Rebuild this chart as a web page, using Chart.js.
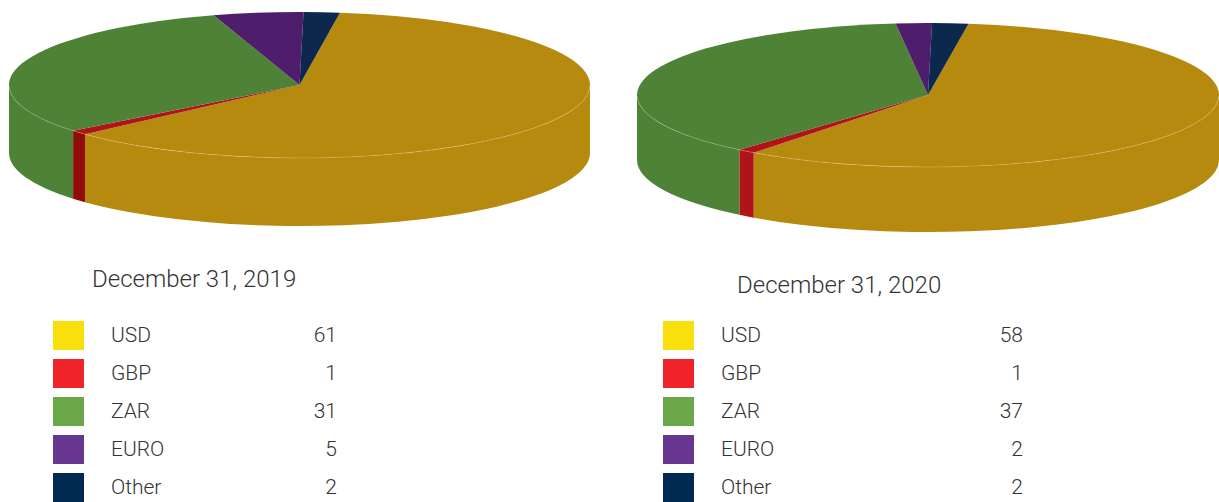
<!DOCTYPE html>
<html>
<head>
<meta charset="utf-8">
<script src="https://cdn.jsdelivr.net/npm/chart.js@4.4.1/dist/chart.umd.min.js"></script>
<style>
  html, body { margin: 0; padding: 0; background: #fff; }
  body { width: 1219px; height: 502px; position: relative; overflow: hidden;
         font-family: Roboto, "Liberation Sans", sans-serif; font-weight: 300; color: #333; }
  canvas { position: absolute; top: 0; }
  #pie-2019 { left: 0; }
  #pie-2020 { left: 620px; }
  .title { position: absolute; font-size: 24px; line-height: 28px; white-space: nowrap; }
  #title-2019 { left: 92px; top: 265px; }
  #title-2020 { left: 737px; top: 271px; }
  .legend { position: absolute; top: 321px; }
  #legend-2019 { left: 53px; width: 284px; }
  #legend-2020 { left: 663px; width: 360px; }
  .row { position: relative; height: 38px; font-size: 21px; }
  .row .sw { position: absolute; left: 0; top: 0; width: 31px; height: 29px; }
  .row .lbl { position: absolute; left: 58px; top: 0; line-height: 29px; }
  .row .val { position: absolute; right: 0; top: 0; line-height: 29px; }
</style>
</head>
<body>
<canvas id="pie-2019" width="610" height="240"></canvas>
<canvas id="pie-2020" width="599" height="240"></canvas>
<div class="title" id="title-2019"></div>
<div class="title" id="title-2020"></div>
<div class="legend" id="legend-2019"></div>
<div class="legend" id="legend-2020"></div>
<script>
// Currency split of holdings, two year-ends, drawn as tilted 3D pies.
const CURRENCIES = ['USD', 'GBP', 'ZAR', 'EURO', 'Other'];
const SHARE_2019 = [61, 1, 31, 5, 2];
const SHARE_2020 = [58, 1, 37, 2, 2];
const TITLE_2019 = 'December 31, 2019';
const TITLE_2020 = 'December 31, 2020';

// pie faces are a darker print tone than the legend swatches
const PIE_COLORS = ['#b58a0f', '#b0141a', '#4e8236', '#4e1d6b', '#0d284d'];
const SIDE_COLORS = ['#b58a0f', '#920b0b', '#4e8236', '#4e1d6b', '#0d284d'];
const KEY_COLORS = ['#f9e00c', '#ee2428', '#6aa84a', '#67368f', '#012a52'];

// pieces of [a, b] that fall on the front half (canvas angles 0..PI)
function frontSpans(a, b) {
  const out = [];
  for (let k = -1; k <= 2; k++) {
    const lo = Math.max(a, 2 * Math.PI * k);
    const hi = Math.min(b, 2 * Math.PI * k + Math.PI);
    if (hi > lo) out.push([lo, hi]);
  }
  return out;
}

// Squash the flat pie into an ellipse and give it an outer wall.
const tilt3d = {
  id: 'tilt3d',
  beforeDatasetsDraw(chart, args, opts) {
    const ctx = chart.ctx;
    const arcs = chart.getDatasetMeta(0).data;
    if (!arcs.length) return false;
    const { x, y, outerRadius: r } = arcs[0].getProps(['x', 'y', 'outerRadius'], true);
    const sx = opts.rx / r;
    const sy = opts.ry / r;
    const project = (dy) => {
      ctx.setTransform(sx, 0, 0, sy, opts.cx - x * sx, opts.cy + dy - y * sy);
    };

    ctx.save();
    // outer wall, front half only
    arcs.forEach((a, i) => {
      const p = a.getProps(['startAngle', 'endAngle'], true);
      frontSpans(p.startAngle, p.endAngle).forEach(([lo, hi]) => {
        ctx.beginPath();
        project(0);
        ctx.arc(x, y, r, lo, hi);
        project(opts.depth);
        ctx.arc(x, y, r, hi, lo, true);
        ctx.closePath();
        ctx.setTransform(1, 0, 0, 1, 0, 0);
        ctx.fillStyle = opts.side[i];
        ctx.fill();
      });
    });
    // top face
    arcs.forEach((a, i) => {
      const p = a.getProps(['startAngle', 'endAngle'], true);
      ctx.beginPath();
      project(0);
      ctx.moveTo(x, y);
      ctx.arc(x, y, r, p.startAngle, p.endAngle);
      ctx.closePath();
      ctx.setTransform(1, 0, 0, 1, 0, 0);
      ctx.fillStyle = PIE_COLORS[i];
      ctx.fill();
    });
    // faint highlight on the front rim
    ctx.beginPath();
    project(0);
    ctx.arc(x, y, r, 0.02, Math.PI - 0.02);
    ctx.setTransform(1, 0, 0, 1, 0, 0);
    ctx.strokeStyle = 'rgba(255,235,180,0.22)';
    ctx.lineWidth = 1;
    ctx.stroke();
    ctx.restore();
    return false;
  },
};

function makePie(id, values, geom) {
  new Chart(document.getElementById(id), {
    type: 'pie',
    data: {
      labels: CURRENCIES,
      datasets: [{ data: values, backgroundColor: PIE_COLORS, borderWidth: 0 }],
    },
    options: {
      responsive: false,
      animation: false,
      rotation: 8,
      layout: { padding: 0 },
      events: [],
      plugins: {
        legend: { display: false },
        tooltip: { enabled: false },
        tilt3d: geom,
      },
    },
    plugins: [tilt3d],
  });
}

function makeKey(id, titleId, title, values) {
  document.getElementById(titleId).textContent = title;
  const box = document.getElementById(id);
  CURRENCIES.forEach((c, i) => {
    const row = document.createElement('div');
    row.className = 'row';
    row.innerHTML = `<span class="sw" style="background:${KEY_COLORS[i]}"></span>` +
      `<span class="lbl">${c}</span><span class="val">${values[i]}</span>`;
    box.appendChild(row);
  });
}

makePie('pie-2019', SHARE_2019, { cx: 299.5, cy: 85, rx: 290.5, ry: 73, depth: 68, side: SIDE_COLORS });
makePie('pie-2020', SHARE_2020, { cx: 308, cy: 95, rx: 291, ry: 72, depth: 65, side: PIE_COLORS });
makeKey('legend-2019', 'title-2019', TITLE_2019, SHARE_2019);
makeKey('legend-2020', 'title-2020', TITLE_2020, SHARE_2020);
</script>
</body>
</html>
